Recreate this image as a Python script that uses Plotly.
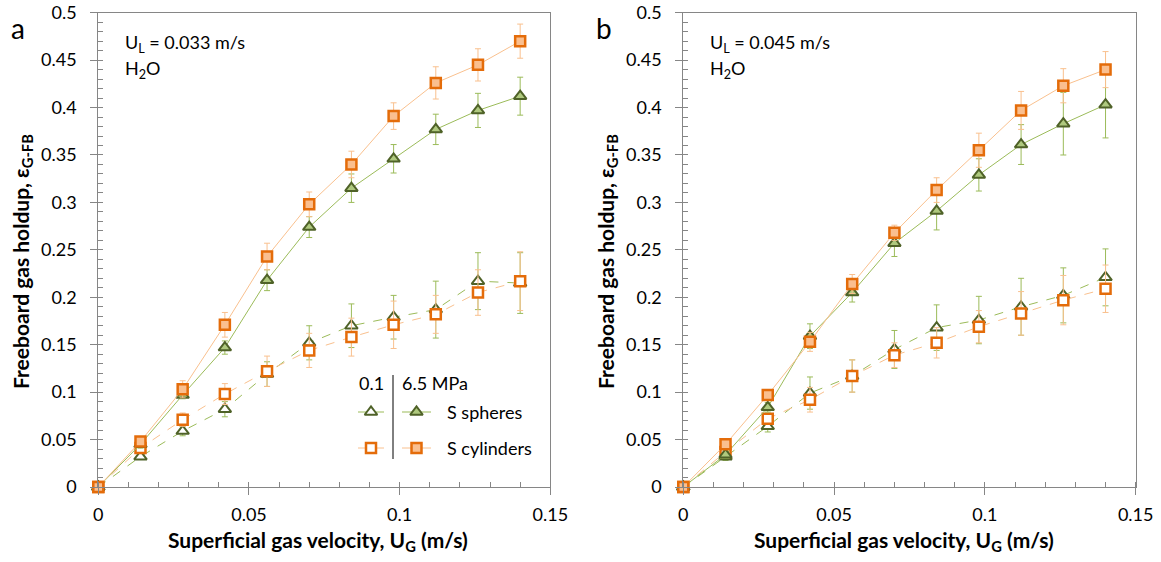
import plotly.graph_objects as go

# ---------------- data ----------------
ug = [0, 0.014, 0.028, 0.042, 0.056, 0.070, 0.084, 0.098, 0.112, 0.126, 0.140]

# panel a (U_L = 0.033 m/s)
a_sph_01 = [0, 0.032, 0.059, 0.082, 0.119, 0.152, 0.170, 0.179, 0.187, 0.217, 0.215]
a_sph_01_err = [0, 0.003, 0.005, 0.008, 0.013, 0.018, 0.023, 0.023, 0.030, 0.030, 0.032]
a_cyl_01 = [0, 0.041, 0.071, 0.098, 0.122, 0.144, 0.158, 0.171, 0.182, 0.205, 0.217]
a_cyl_01_err = [0, 0.004, 0.007, 0.011, 0.016, 0.018, 0.020, 0.025, 0.020, 0.024, 0.031]
a_sph_65 = [0, 0.045, 0.097, 0.147, 0.218, 0.274, 0.315, 0.346, 0.377, 0.397, 0.412]
a_sph_65_err = [0, 0.004, 0.004, 0.007, 0.011, 0.011, 0.015, 0.015, 0.016, 0.018, 0.020]
a_cyl_65 = [0, 0.048, 0.103, 0.171, 0.243, 0.298, 0.340, 0.391, 0.426, 0.445, 0.470]
a_cyl_65_err = [0, 0.005, 0.009, 0.013, 0.014, 0.013, 0.014, 0.014, 0.017, 0.017, 0.018]

# panel b (U_L = 0.045 m/s)
b_sph_01 = [0, 0.032, 0.064, 0.099, 0.117, 0.145, 0.168, 0.176, 0.190, 0.202, 0.221]
b_sph_01_err = [0, 0.004, 0.006, 0.017, 0.017, 0.020, 0.024, 0.025, 0.030, 0.029, 0.030]
b_cyl_01 = [0, 0.037, 0.072, 0.092, 0.117, 0.139, 0.152, 0.169, 0.183, 0.197, 0.209]
b_cyl_01_err = [0, 0.004, 0.006, 0.013, 0.017, 0.013, 0.016, 0.017, 0.023, 0.026, 0.025]
b_sph_65 = [0, 0.034, 0.084, 0.159, 0.205, 0.257, 0.291, 0.329, 0.361, 0.383, 0.403]
b_sph_65_err = [0, 0.004, 0.005, 0.013, 0.010, 0.014, 0.020, 0.017, 0.021, 0.033, 0.035]
b_cyl_65 = [0, 0.045, 0.097, 0.153, 0.214, 0.268, 0.313, 0.355, 0.397, 0.423, 0.440]
b_cyl_65_err = [0, 0.005, 0.005, 0.010, 0.010, 0.008, 0.013, 0.018, 0.020, 0.018, 0.019]

x_ticks = [0, 0.05, 0.1, 0.15]
x_ticktext = ["0", "0.05", "0.1", "0.15"]
y_ticks = [0, 0.05, 0.1, 0.15, 0.2, 0.25, 0.3, 0.35, 0.4, 0.45, 0.5]
y_ticktext = ["0", "0.05", "0.1", "0.15", "0.2", "0.25", "0.3", "0.35", "0.4", "0.45", "0.5"]

panel_labels = ["a", "b"]
ul_labels = ["U<sub>L</sub> = 0.033 m/s", "U<sub>L</sub> = 0.045 m/s"]

# ---------------- styles ----------------
W, H = 1161, 562
FONT = "Lato"
OR_EDGE = "#E46C0A"
OR_FILL = "#FABF8F"
OR_LINE = "#F9C08E"
GR_EDGE = "#4F6228"
GR_FILL = "#AFC97E"
GR_LINE = "#9BBB59"
AXC = "#868686"
TXT = 18
TITLE = 21

def px_x(p):
    return p / W

def px_y(p):
    return 1 - p / H

x_dom = [[px_x(98.3), px_x(550.3)], [px_x(683.3), px_x(1135.7)]]
y_dom = [px_y(487), px_y(12.7)]

fig = go.Figure()

def style(kind):
    if kind == "sph":
        return GR_EDGE, GR_FILL, GR_LINE, "triangle-up", 11, 2
    return OR_EDGE, OR_FILL, OR_LINE, "square", 10, 2.5

def add_series(xa, ya, y, err, kind, pressure):
    edge, fill, lcol, sym, size, lw = style(kind)
    dash = "dash" if pressure == "0.1" else "solid"
    mfill = "white" if pressure == "0.1" else fill
    fig.add_trace(go.Scatter(
        x=ug, y=y, xaxis=xa, yaxis=ya, mode="lines+markers",
        line=dict(color=lcol, width=1, dash=dash),
        marker=dict(symbol=sym, size=size, color=mfill, line=dict(color=edge, width=lw)),
        error_y=dict(type="data", array=err, color=lcol, thickness=1, width=3),
        showlegend=False, cliponaxis=False,
    ))

for xa, ya, d in [("x", "y", (a_sph_01, a_sph_01_err, a_cyl_01, a_cyl_01_err, a_sph_65, a_sph_65_err, a_cyl_65, a_cyl_65_err)),
                  ("x2", "y2", (b_sph_01, b_sph_01_err, b_cyl_01, b_cyl_01_err, b_sph_65, b_sph_65_err, b_cyl_65, b_cyl_65_err))]:
    add_series(xa, ya, d[0], d[1], "sph", "0.1")
    add_series(xa, ya, d[2], d[3], "cyl", "0.1")
    add_series(xa, ya, d[4], d[5], "sph", "6.5")
    add_series(xa, ya, d[6], d[7], "cyl", "6.5")

# ---------------- legend keys (pixel overlay axis) ----------------
leg_rows = [("sph", 412), ("cyl", 448)]
for kind, yy in leg_rows:
    for pressure, x0, x1 in [("0.1", 358, 384), ("6.5", 402, 431)]:
        edge, fill, lcol, sym, size, lw = style(kind)
        mfill = "white" if pressure == "0.1" else fill
        fig.add_trace(go.Scatter(
            x=[x0, x1], y=[yy, yy], xaxis="x3", yaxis="y3", mode="lines",
            line=dict(color=lcol, width=1, dash="dash" if pressure == "0.1" else "solid"),
            showlegend=False, hoverinfo="skip",
        ))
        fig.add_trace(go.Scatter(
            x=[(x0 + x1) / 2], y=[yy], xaxis="x3", yaxis="y3", mode="markers",
            marker=dict(symbol=sym, size=size, color=mfill, line=dict(color=edge, width=lw)),
            showlegend=False, hoverinfo="skip",
        ))

def xaxis_cfg(dom, anchor):
    return dict(
        domain=dom, anchor=anchor, range=[0, 0.15], tickmode="array",
        tickvals=x_ticks, ticktext=x_ticktext, ticks="outside", ticklen=7,
        tickcolor=AXC, tickwidth=1, showline=True, linecolor=AXC, linewidth=1,
        mirror=True, showgrid=False, zeroline=False, automargin=False,
        tickfont=dict(family=FONT, size=TXT, color="black"),
        ticklabelstandoff=4,
        minor=dict(ticks="inside", ticklen=5, tickcolor=AXC, dtick=0.01, tick0=0, showgrid=False),
    )

def yaxis_cfg(anchor):
    return dict(
        domain=y_dom, anchor=anchor, range=[0, 0.5], tickmode="array",
        tickvals=y_ticks, ticktext=y_ticktext, ticks="outside", ticklen=7,
        tickcolor=AXC, tickwidth=1, showline=True, linecolor=AXC, linewidth=1,
        mirror=True, showgrid=False, zeroline=False, automargin=False,
        tickfont=dict(family=FONT, size=TXT, color="black"),
        ticklabelstandoff=10,
        minor=dict(ticks="inside", ticklen=5, tickcolor=AXC, dtick=0.01, tick0=0, showgrid=False),
    )

annotations = []
for i in range(2):
    xl = [98.3, 683.3][i]
    xr = [550.3, 1135.7][i]
    annotations.append(dict(text=panel_labels[i], x=px_x([18, 604][i]), y=px_y(28), xref="paper", yref="paper",
                            showarrow=False, font=dict(family=FONT, size=28, color="black"),
                            xanchor="center", yanchor="middle"))
    annotations.append(dict(text=ul_labels[i], x=px_x(xl + 25), y=px_y(43), xref="paper", yref="paper",
                            showarrow=False, font=dict(family=FONT, size=TXT, color="black"),
                            xanchor="left", yanchor="middle"))
    annotations.append(dict(text="H<sub>2</sub>O", x=px_x(xl + 25), y=px_y(69), xref="paper", yref="paper",
                            showarrow=False, font=dict(family=FONT, size=TXT, color="black"),
                            xanchor="left", yanchor="middle"))
    annotations.append(dict(text="<b>Superficial gas velocity, U<sub>G</sub> (m/s)</b>",
                            x=px_x((xl + xr) / 2 - 6), y=px_y(541), xref="paper", yref="paper",
                            showarrow=False, font=dict(family=FONT, size=TITLE, color="black"),
                            xanchor="center", yanchor="middle"))
    annotations.append(dict(text="<b>Freeboard gas holdup, ε<sub>G-FB</sub></b>",
                            x=px_x([22, 607][i]), y=px_y(262), xref="paper", yref="paper",
                            showarrow=False, font=dict(family=FONT, size=TITLE, color="black"),
                            xanchor="center", yanchor="middle", textangle=-90))

# legend text
for txt, xx, yy, anc in [("0.1", 371, 383, "center"), ("6.5 MPa", 400, 383, "left"),
                         ("S spheres", 445, 412, "left"), ("S cylinders", 445, 448, "left")]:
    annotations.append(dict(text=txt, x=px_x(xx), y=px_y(yy), xref="paper", yref="paper", showarrow=False,
                            font=dict(family=FONT, size=TXT, color="black"), xanchor=anc, yanchor="middle"))

shapes = [dict(type="line", xref="paper", yref="paper", x0=px_x(393), x1=px_x(393), y0=px_y(375), y1=px_y(459),
               line=dict(color="black", width=1))]

fig.update_layout(
    width=W, height=H, autosize=False,
    margin=dict(l=0, r=0, t=0, b=0),
    paper_bgcolor="white", plot_bgcolor="rgba(0,0,0,0)",
    xaxis=xaxis_cfg(x_dom[0], "y"),
    yaxis=yaxis_cfg("x"),
    xaxis2=xaxis_cfg(x_dom[1], "y2"),
    yaxis2=yaxis_cfg("x2"),
    xaxis3=dict(domain=[0, 1], range=[0, W], visible=False, anchor="y3", fixedrange=True),
    yaxis3=dict(domain=[0, 1], range=[H, 0], visible=False, anchor="x3", fixedrange=True),
    annotations=annotations,
    shapes=shapes,
    font=dict(family=FONT),
    showlegend=False,
)

fig.write_html("out.html")
